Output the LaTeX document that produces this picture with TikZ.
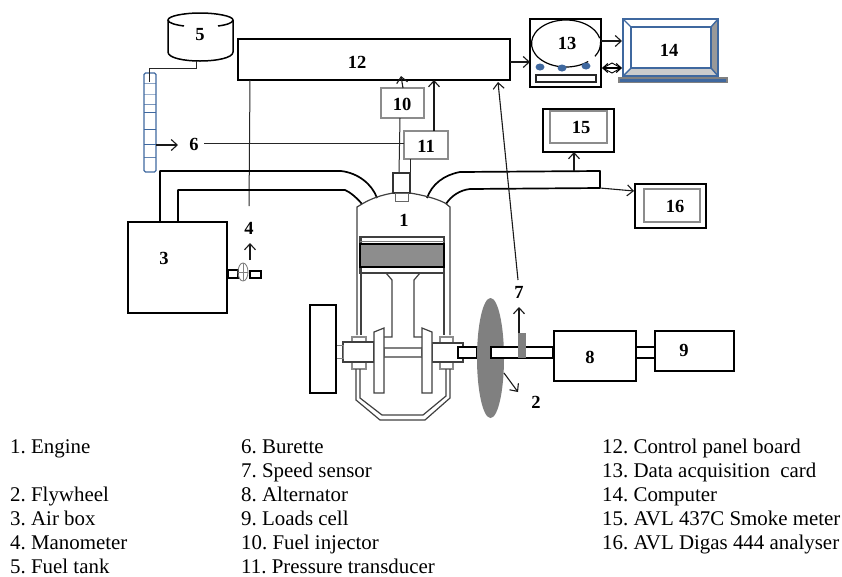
\documentclass[tikz,border=0pt]{standalone}
\usepackage{fontspec}
\setmainfont{Liberation Serif}
\usetikzlibrary{arrows.meta,shapes.geometric,calc}
\definecolor{bl}{HTML}{3F689F}
\definecolor{gr}{HTML}{808080}
\definecolor{gl}{HTML}{8C8C8C}
\newcommand{\bx}[6][]{\path[#1] ({(#3+#5)/2},{(#4+#6)/2}) node[pb,minimum width={#5-#3},minimum height={#6-#4}] (#2) {};}
\tikzset{
 pb/.style={rectangle,inner sep=0pt,outer sep=0pt},
 thick box/.style={every node/.append style={draw=black,line width=1.8pt}},
 med box/.style={every node/.append style={draw=black!85,line width=1.2pt}},
 grey box/.style={every node/.append style={draw=gl,line width=1.1pt}},
 lb/.style={font=\fontsize{18.5}{20}\selectfont\bfseries,inner sep=0pt},
 lg/.style={font=\fontsize{20.9}{22}\selectfont\frenchspacing,anchor=base west,inner sep=0pt},
 lk/.style={line width=1pt,draw=black!85},
 ar/.style={line width=1.1pt,draw=black!90,-{Straight Barb[length=6pt,width=11pt,line width=1.1pt]}},
 en/.style={line width=1.2pt,draw=black!75},
 pipe/.style={line width=1.7pt,line join=round},
}
\begin{document}
\begin{tikzpicture}[x=1pt,y=-1pt]
\useasboundingbox (0,0) rectangle (842,576);
% control panel
\bx[thick box]{b12}{238}{39}{510}{80}
\node[lb] (l12) at (357,62) {12};
% tank
\draw[line width=1.5pt] (168,20) -- (168,52) .. controls (168,58) and (184,61) .. (200,61) .. controls (216,61) and (233,58) .. (233,52) -- (233,20);
\draw[line width=1.5pt] (184,26) .. controls (176,25) and (168,23) .. (168,20) .. controls (168,16) and (184,13) .. (200,13) .. controls (216,13) and (233,16) .. (233,20) .. controls (233,23) and (226,25) .. (218,26);
\node[lb] (l5) at (200,35) {5};
% burette
\foreach \y/\c in {83/bl!60,94/bl!50,104/bl!70,112/bl,129/bl,144/bl,157/bl!80}
  \draw[line width=0.9pt,draw=\c] (144,\y) -- (156,\y);
\draw[line width=1.4pt,draw=bl,rounded corners=1.5pt] (144,73) rectangle (156,172);
\draw[lk] (196,61) -- (196,68) -- (149.5,68) -- (149.5,82);
\coordinate (c6a) at (156,145);
\coordinate (c6b) at (178,145);
\draw[ar] (c6a) -- (c6b);
\node[lb] (l6) at (194,144) {6};
% sensor boxes
\bx[grey box]{b10}{381}{88}{424}{118}
\node[lb] (l10) at (402,104) {10};
\bx[grey box]{b11}{404}{131}{448}{159}
\node[lb] (l11) at (426,146) {11};
\draw[lk] (204,143) -- (b11.west |- 0,143);
\draw[ar] ([xshift=0.5pt]b10.north) -- ++(-2,-12);
\draw[ar] ([xshift=8pt]b11.north) -- ([xshift=8pt]b11.north |- b12.south);
\draw[lk] (400,118) -- (399,173);
\draw[lk] (410,159) -- (410,173);
\draw[lk] (250,80) -- (249,206);
% injector
\draw[line width=1.1pt,draw=black!80] (393,173) rectangle (410,193);
\draw[line width=1pt,draw=black!60] (395,193) rectangle (408,201);
% pipes
\draw[pipe] (160,222) -- (160,171) -- (341,171) .. controls (358,173) and (372,184) .. (377,198);
\draw[pipe] (178,222) -- (178,190) -- (345,190) .. controls (350,192) and (357,198) .. (362,204);
\draw[pipe] (427,198) .. controls (432,184) and (444,175) .. (460,172) -- (600,171) -- (600,188);
\draw[pipe] (446,204) .. controls (451,196) and (460,190) .. (470,189) -- (600,188);
\coordinate (p15) at (574,171);
\coordinate (p16) at (600,188);
% engine head and cylinder
\draw[en] (357,335) -- (357,207) -- (362,204) .. controls (372,198) and (382,195) .. (393,193);
\draw[en] (450,335) -- (450,207) -- (445,203) .. controls (435,198) and (422,195) .. (410,193);
\draw[en] (361,237) -- (361,335);
\draw[en] (444,237) -- (444,335);
\node[lb] (l1) at (404,220) {1};
% piston
\draw[en] (360,237) rectangle (444,273);
\draw[line width=1.1pt,fill=gr!90] (360,244) rectangle (444,267);
\draw[line width=0.7pt,draw=gray] (360,241) -- (444,241);
% rod
\draw[en] (386,273) -- (392,280) -- (392,337) -- (384,337);
\draw[en] (420,273) -- (414,280) -- (414,337) -- (422,337);
% crank
\bx[grey box]{brl}{352}{337}{366}{369}
\bx[grey box]{brr}{440}{337}{453}{369}
\draw[en,fill=white] (343,342) rectangle (374,362);
\draw[en,fill=white] (432,343) rectangle (463,362);
\draw[en,draw=gray] (384,348) rectangle (422,357);
\draw[en,fill=white] (374,332) -- (384,328) -- (384,393) -- (374,393) -- cycle;
\draw[en,fill=white] (422,328) -- (432,332) -- (432,393) -- (422,393) -- cycle;
\draw[line width=0.9pt,draw=gray] (336,345) rectangle (343,358);
\bx[thick box]{bfw}{310}{305}{336}{393}
% crankcase
\draw[en] (356,369) -- (356,400) -- (380,420) -- (425,420) -- (450,398) -- (450,369);
\draw[en] (360,369) -- (360,398) -- (382,415) -- (423,415) -- (446,396) -- (446,369);
% air box, manometer
\bx[thick box]{b3}{128}{222}{227}{313}
\node[lb] (l3) at (164,258) {3};
\node[lb] (l4) at (249,228) {4};
\bx[thick box]{ml}{228}{270}{238}{278}
\bx[thick box]{mr}{250}{271}{261}{278}
\node[ellipse,draw=gray,line width=0.9pt,minimum width=10pt,minimum height=18pt,inner sep=0pt] (me) at (243,272) {};
\draw[line width=0.7pt,draw=gray] (me.north) -- (me.south) (me.west) -- (me.east);
\draw[ar] (250,260) -- (250,243);
% flywheel and shaft
\draw[line width=1.7pt,fill=white] (458,347) rectangle (477,358);
\node[ellipse,fill=gr,minimum width=27pt,minimum height=120pt,inner sep=0pt] (fw) at (490.5,358) {};
\draw[line width=1.7pt,fill=white] (491,347) rectangle (553,358);
\fill[gr] (518,333) rectangle (526,358);
\draw[ar] (519,333) -- (519,307);
\node[lb] (l7) at (519,292) {7};
\draw[ar] (504,373) -- (518,392);
\node[lb] (l2) at (536,402) {2};
\draw[ar] (518,280) -- (498,82);
% alternator, load cell
\bx[thick box]{b8}{554}{331}{636}{381}
\bx[thick box]{b9}{655}{331}{734}{371}
\draw[line width=1.5pt] (636,347) -- (655,347) (636,358) -- (655,358);
\node[lb] (l8) at (590,357) {8};
\node[lb] (l9) at (684,350) {9};
% DAQ
\bx[thick box]{b13}{530}{19}{601}{87}
\draw[line width=1.2pt] (566,43.5)+(50:34.5 and 23.5) arc[start angle=50,end angle=347,x radius=34.5,y radius=23.5];
\draw[line width=1.2pt] (566,43.5)+(33:34.5 and 23.5) arc[start angle=33,end angle=-3,x radius=34.5,y radius=23.5];
\node[lb] (l13) at (567,43) {13};
\foreach \x/\y in {540/67,562/68,586/66}
  \fill[bl] (\x,\y) ellipse (4.5 and 3.5);
\bx[med box]{b13r}{536}{75}{596}{82}
\draw[ar] ([yshift=-2.5pt]b12.east) -- ([yshift=-2.5pt]b12.east -| b13.west);
\draw[ar] (601,41) -- (622,41);
% laptop
\fill[gray!80] (718,19) -- (711,27) -- (711,68) -- (718,76) -- cycle;
\fill[gray!40] (623,76) -- (631,68) -- (711,68) -- (718,76) -- cycle;
\draw[bl,line width=1.4pt] (623,19) rectangle (718,76);
\bx[]{b14}{631}{27}{711}{68}
\draw[bl,line width=1.4pt] (b14.north west) rectangle (b14.south east);
\draw[bl,line width=1.4pt] (623,19) -- (631,27) (718,19) -- (711,27) (623,76) -- (631,68) (718,76) -- (711,68);
\node[lb] (l14) at (669,50) {14};
\fill[gray] (618,77) rectangle (728,83);
\fill[bl] (620,78.5) rectangle (726,81.5);
\draw[line width=1.1pt,{Straight Barb[length=5pt,width=9pt]}-{Straight Barb[length=5pt,width=9pt]}] (602,68) -- (622,68);
\draw[line width=0.9pt] (603,68) -- (612,63) -- (621,68) -- (612,73) -- cycle;
% analysers
\bx[thick box]{b15}{543}{109}{614}{152}
\bx[grey box]{b15i}{550}{111}{607}{143}
\node[lb] (l15) at (581,127) {15};
\bx[thick box]{b16}{635}{184}{706}{228}
\bx[grey box]{b16i}{644}{189}{700}{222}
\node[lb] (l16) at (675,206) {16};
\draw[ar] (p15) -- (p15 |- b15.south);
\draw[ar] (p16) -- (634,191);
% legend
\node[lg] (t1) at (10,453) {1. Engine};
\node[lg] (t2) at (10,501) {2. Flywheel};
\node[lg] (t3) at (10,525) {3. Air box};
\node[lg] (t4) at (10,549) {4. Manometer};
\node[lg] (t5) at (10,573) {5. Fuel tank};
\node[lg] (t6) at (241,453) {6. Burette};
\node[lg] (t7) at (241,477) {7. Speed sensor};
\node[lg] (t8) at (241,501) {8. Alternator};
\node[lg] (t9) at (241,525) {9. Loads cell};
\node[lg] (t10) at (241,549) {10. Fuel injector};
\node[lg] (t11) at (241,573) {11. Pressure transducer};
\node[lg] (t12) at (602,453) {12. Control panel board};
\node[lg] (t13) at (602,477) {13. Data acquisition\ \ card};
\node[lg] (t14) at (602,501) {14. Computer};
\node[lg] (t15) at (602,525) {15. AVL 437C Smoke meter};
\node[lg] (t16) at (602,549) {16. AVL Digas 444 analyser};
\end{tikzpicture}
\end{document}
